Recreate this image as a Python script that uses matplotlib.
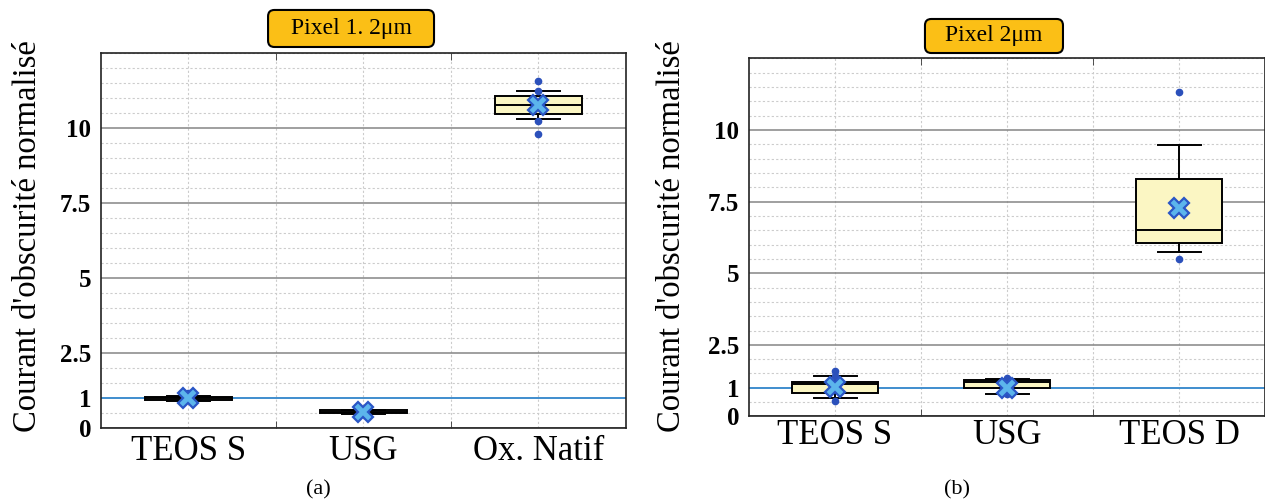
import matplotlib
matplotlib.use("Agg")
import matplotlib.pyplot as plt
from matplotlib.patches import FancyBboxPatch
import numpy as np

plt.rcParams['font.family'] = ['Liberation Serif', 'DejaVu Serif']

# --- panel (a) : Pixel 1.2um ---
cats_a = ["TEOS S", "USG", "Ox. Natif"]
q1_a = [0.95, 0.50, 10.46]
med_a = [1.00, 0.54, 10.78]
q3_a = [1.04, 0.59, 11.06]
lo_a = [0.90, 0.48, 10.29]
hi_a = [1.08, 0.61, 11.23]
mean_a = [0.99, 0.54, 10.76]
pts_a = [[1.18], [], [11.57, 11.23, 10.22, 9.79]]

# --- panel (b) : Pixel 2um ---
cats_b = ["TEOS S", "USG", "TEOS D"]
q1_b = [0.83, 0.98, 6.06]
med_b = [1.13, 1.19, 6.49]
q3_b = [1.21, 1.26, 8.27]
lo_b = [0.63, 0.77, 5.75]
hi_b = [1.41, 1.30, 9.46]
mean_b = [1.02, 0.98, 7.29]
pts_b = [[1.59, 1.41, 0.55], [1.33, 0.77], [11.33, 5.48]]

yticks = [0, 1, 2.5, 5, 7.5, 10]
ytick_labels = ["0", "1", "2.5", "5", "7.5", "10"]

fig = plt.figure(figsize=(12.65, 5.01), dpi=100)
ax_a = fig.add_axes([0.0798, 0.1457, 0.415, 0.7485])
ax_b = fig.add_axes([0.5921, 0.1687, 0.4079, 0.715])


def draw_panel(ax, cats, q1, med, q3, lo, hi, mean, pts, xpad):
    pos = np.arange(1, len(cats) + 1)
    stats = []
    for i in range(len(cats)):
        stats.append(dict(q1=q1[i], med=med[i], q3=q3[i],
                          whislo=lo[i], whishi=hi[i], fliers=[]))

    ax.axhline(1, color='#3a8fd4', lw=1.3, zorder=1.5)

    lw = 1.4
    ax.bxp(stats, positions=pos, widths=0.5, capwidths=0.25,
           patch_artist=True, showfliers=False, zorder=3,
           boxprops=dict(facecolor='#fbf6c3', edgecolor='black', linewidth=lw),
           medianprops=dict(color='black', linewidth=lw),
           whiskerprops=dict(color='black', linewidth=lw),
           capprops=dict(color='black', linewidth=lw))

    for p, vals in zip(pos, pts):
        ax.plot([p] * len(vals), vals, 'o', ms=4.5, color='#2b50bb',
                zorder=4)
    ax.plot(pos, mean, 'X', ms=14, mfc='#5cb5ec', mec='#2a56c6', mew=1.6,
            zorder=5)

    ax.set_xlim(0.5, 3.5)
    ax.set_ylim(0, 12.5)
    ax.set_xticks(pos)
    ax.set_xticklabels(cats)
    ax.set_xticks([1.5, 2.5], minor=True)
    ax.set_yticks(yticks)
    ax.set_yticklabels(ytick_labels)
    ax.set_yticks(np.arange(0, 12.51, 0.5), minor=True)

    ax.tick_params(axis='x', which='major', length=0, pad=xpad, labelsize=25)
    ax.tick_params(axis='x', which='minor', length=5, direction='in',
                   top=True, bottom=True, color='#333333')
    ax.tick_params(axis='y', which='both', length=0, pad=7)
    for lab in ax.get_yticklabels():
        lab.set_fontsize(18)
        lab.set_fontweight('bold')

    ax.set_axisbelow(True)
    ax.grid(True, which='major', axis='y', color='#858585', lw=1.1, ls='-')
    ax.grid(True, which='minor', axis='y', color='#cccccc', lw=0.8,
            ls=(0, (2, 2)))
    ax.grid(True, which='both', axis='x', color='#cccccc', lw=0.8,
            ls=(0, (2, 2)))

    for s in ax.spines.values():
        s.set_color('#222222')
        s.set_linewidth(1.2)


draw_panel(ax_a, cats_a, q1_a, med_a, q3_a, lo_a, hi_a, mean_a, pts_a, 5)
draw_panel(ax_b, cats_b, q1_b, med_b, q3_b, lo_b, hi_b, mean_b, pts_b, 2)

# y labels
ylab = "Courant d'obscurité normalisé"
fig.text(28 / 1265, 1 - 236 / 501, ylab, rotation=90, ha='center',
         va='center', fontsize=23.5)
fig.text(672 / 1265, 1 - 236 / 501, ylab, rotation=90, ha='center',
         va='center', fontsize=23.5)

# title tags
aspect = 12.65 / 5.01
for (x0, y0, w, h), txt in [((0.2119, 0.9062, 0.1312, 0.0739), "Pixel 1. 2μm"),
                            ((0.7312, 0.8942, 0.1091, 0.0679), "Pixel 2μm")]:
    box = FancyBboxPatch((x0, y0), w, h,
                         boxstyle='round,pad=0,rounding_size=0.005',
                         mutation_aspect=aspect,
                         transform=fig.transFigure, facecolor='#fbbf16',
                         edgecolor='black', linewidth=1.5)
    fig.patches.append(box)
    fig.text(x0 + w / 2, y0 + h / 2, txt, ha='center', va='center',
             fontsize=17)

# captions
fig.text(318 / 1265, 1 - 490 / 501, "(a)", ha='center', va='center', fontsize=16)
fig.text(957 / 1265, 1 - 490 / 501, "(b)", ha='center', va='center', fontsize=16)

fig.savefig("out.png", dpi=100)
